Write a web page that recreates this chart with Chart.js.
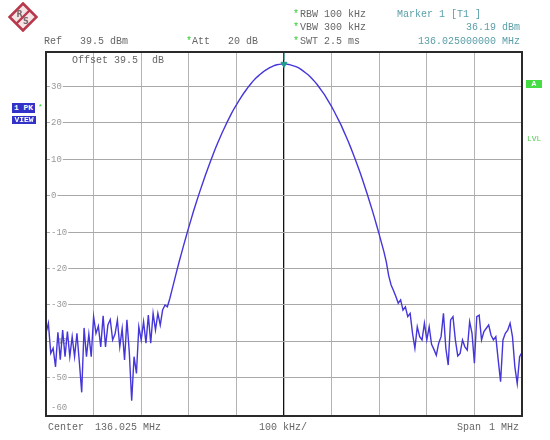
<!DOCTYPE html>
<html>
<head>
<meta charset="utf-8">
<script src="https://cdn.jsdelivr.net/npm/chart.js@4.4.1/dist/chart.umd.min.js"></script>
<style>
  html, body { margin: 0; padding: 0; background: #fff; }
  #wrap { position: relative; width: 550px; height: 440px; overflow: hidden;
          font-family: "Liberation Mono", "DejaVu Sans Mono", monospace; font-size: 10px; color: #666; }
  #wrap canvas { position: absolute; left: 0; top: 0; }
  .t { position: absolute; white-space: pre; line-height: 10px; }
  .r { text-align: right; }
  .teal { color: #5a9ea8; }
  .star { color: #3c3; }
  .tick { color: #999; font-size: 9px; }
  .box { position: absolute; background: #3232c8; color: #fff; font-size: 8px; line-height: 8px;
         text-align: center; font-weight: bold; }
</style>
</head>
<body>
<div id="wrap">
  <canvas id="spectrum" width="550" height="440"></canvas>

  <svg class="t" style="left:8px;top:2px" width="30" height="30" viewBox="0 0 30 30">
    <polygon points="15,1.5 28.5,15 15,28.5 1.5,15" fill="#f4e4e6" stroke="#b8384c" stroke-width="2.6"/>
    <line x1="8" y1="22" x2="22" y2="8" stroke="#b8384c" stroke-width="2.4"/>
    <text x="8.5" y="15" font-size="8" font-family="DejaVu Sans" font-weight="bold" fill="#7a6a6c">R</text>
    <text x="15" y="22" font-size="8" font-family="DejaVu Sans" font-weight="bold" fill="#7a6a6c">S</text>
  </svg>

  <div class="t" style="left:44px;top:37px">Ref</div>
  <div class="t" style="left:80px;top:37px">39.5 dBm</div>
  <div class="t star" style="left:186px;top:37px">*</div>
  <div class="t" style="left:192px;top:37px">Att   20 dB</div>

  <div class="t star" style="left:293px;top:10px">*</div>
  <div class="t" style="left:300px;top:10px">RBW 100 kHz</div>
  <div class="t star" style="left:293px;top:23px">*</div>
  <div class="t" style="left:300px;top:23px">VBW 300 kHz</div>
  <div class="t star" style="left:293px;top:37px">*</div>
  <div class="t" style="left:300px;top:37px">SWT 2.5 ms</div>

  <div class="t teal" style="left:397px;top:10px">Marker 1 [T1 ]</div>
  <div class="t teal r" style="right:30px;top:23px">36.19 dBm</div>
  <div class="t teal r" style="right:30px;top:37px">136.025000000 MHz</div>

  <div class="t" style="left:72px;top:56px">Offset</div>
  <div class="t" style="left:114px;top:56px">39.5</div>
  <div class="t" style="left:152px;top:56px">dB</div>

  <div class="box" style="left:12px;top:103px;width:23px;height:9px;padding-top:1px">1 PK</div>
  <div class="box" style="left:12px;top:116px;width:24px;height:8px">VIEW</div>
  <div class="t star" style="left:38px;top:102px;font-size:8px">*</div>

  <div class="box" style="left:526px;top:80px;width:16px;height:8px;background:#44dd44">A</div>
  <div class="t" style="left:527px;top:134px;font-size:8px;color:#55cc55">LVL</div>

  <div class="t tick" style="left:51px;top:403px">-60</div>

  <div class="t" style="left:48px;top:423px">Center</div>
  <div class="t" style="left:95px;top:423px">136.025 MHz</div>
  <div class="t" style="left:259px;top:423px">100 kHz/</div>
  <div class="t" style="left:457px;top:423px">Span</div>
  <div class="t" style="left:489px;top:423px">1 MHz</div>
</div>

<script>
// sweep: 201 points, 5 kHz apart, offsets from the 136.025 MHz centre
const sweepStartKHz = -500;
const sweepStepKHz = 5;

// -500 ... -240 kHz
const lowerSkirtDbm = [
    -37.8, -35.0, -43.3, -41.9, -47.0, -37.5, -45.0, -36.9, -44.2, -37.3,
    -44.2, -38.7, -44.2, -37.8, -45.6, -54.0, -36.3, -44.2, -38.0, -44.2,
    -33.2, -37.8, -35.8, -41.5, -33.0, -41.5, -35.5, -34.0, -39.6, -38.0,
    -34.1, -41.5, -36.5, -45.1, -34.1, -43.0, -56.3, -44.2, -48.8, -36.0,
    -39.6, -34.6, -40.5, -32.8, -40.5, -32.3, -36.9, -32.3, -35.5, -31.4,
    -30.0, -30.5, -28.3
];

// -235 ... +210 kHz
const mainLobeDbm = [
    -25.7, -23.1, -20.5, -18.0, -15.6, -13.2, -10.9, -8.6, -6.4, -4.2,
    -2.1, -0.1, 1.9, 3.8, 5.7, 7.5, 9.3, 11.0, 12.7, 14.3,
    15.8, 17.3, 18.7, 20.1, 21.4, 22.7, 23.9, 25.0, 26.1, 27.1,
    28.1, 29.0, 29.9, 30.7, 31.5, 32.2, 32.8, 33.4, 33.9, 34.4,
    34.8, 35.2, 35.5, 35.8, 36.0, 36.1, 36.17, 36.19,
    36.17, 36.08, 35.9, 35.7, 35.5, 35.2, 34.8, 34.3, 33.8, 33.3,
    32.7, 32.0, 31.3, 30.5, 29.6, 28.7, 27.8, 26.7, 25.6, 24.5,
    23.3, 22.0, 20.7, 19.4, 17.9, 16.4, 14.9, 13.3, 11.6, 9.9,
    8.1, 6.3, 4.4, 2.4, 0.4, -1.7, -3.8, -6.0, -8.3, -10.6,
    -13.0, -15.4
];

// +215 ... +500 kHz
const upperSkirtDbm = [
    -18.2, -22.0, -24.5, -26.0, -27.7, -29.5, -28.6, -31.4, -30.5, -33.2,
    -32.3, -37.8, -41.9, -36.0, -38.7, -39.6, -35.0, -39.6, -36.0, -40.8,
    -42.2, -43.8, -40.5, -38.7, -32.3, -41.9, -46.5, -34.1, -33.2, -39.6,
    -44.0, -43.3, -39.6, -41.5, -42.4, -34.6, -37.8, -46.0, -33.2, -32.8,
    -39.6, -37.3, -36.4, -35.5, -38.3, -39.6, -38.7, -45.1, -51.1, -39.6,
    -37.8, -36.9, -35.0, -38.7, -47.0, -51.6, -44.2, -43.0
];

const freqGridKHz = [-500, -400, -300, -200, -100, 0, 100, 200, 300, 400, 500];
const levelGridDb = [-50, -40, -30, -20, -10, 0, 10, 20, 30];
const refLevelDbm = 39.5;
const bottomLevelDbm = -60.5;
const markerFreqKHz = 0;
const markerLevelDbm = 36.19;

const traceLevels = lowerSkirtDbm.concat(mainLobeDbm, upperSkirtDbm);
const tracePoints = traceLevels.map((v, i) => ({ x: sweepStartKHz + i * sweepStepKHz, y: v }));

const frameAndMarker = {
    id: 'frameAndMarker',
    afterDatasetsDraw(chart) {
        const ctx = chart.ctx;
        const pt = chart.getDatasetMeta(0).data[0];
        ctx.save();
        ctx.strokeStyle = '#1f9c8c';
        ctx.lineWidth = 1;
        ctx.beginPath();
        ctx.moveTo(pt.x, chart.chartArea.top);
        ctx.lineTo(pt.x, pt.y - 4);
        ctx.stroke();
        ctx.restore();
    },
    afterDraw(chart) {
        const a = chart.chartArea;
        const ctx = chart.ctx;
        ctx.save();
        ctx.strokeStyle = '#2a2a2a';
        ctx.lineWidth = 2;
        ctx.strokeRect(a.left, a.top, a.right - a.left, a.bottom - a.top);
        ctx.restore();
    }
};

new Chart(document.getElementById('spectrum').getContext('2d'), {
    type: 'line',
    data: {
        datasets: [
            {
                data: [{ x: markerFreqKHz, y: markerLevelDbm }],
                showLine: false,
                pointStyle: 'triangle',
                rotation: 180,
                pointRadius: 3.5,
                backgroundColor: '#1f9c8c',
                borderColor: '#1f9c8c'
            },
            {
                data: tracePoints,
                borderColor: '#4536da',
                borderWidth: 1.4,
                pointRadius: 0,
                tension: 0,
                fill: false
            }
        ]
    },
    options: {
        responsive: false,
        animation: false,
        // the mirrored y axis still reserves ~10px, so the left pad is trimmed to land the frame at x=46
        layout: { padding: { left: 36, top: 52, right: 28, bottom: 24 } },
        plugins: { legend: { display: false }, tooltip: { enabled: false } },
        scales: {
            x: {
                type: 'linear',
                min: sweepStartKHz,
                max: -sweepStartKHz,
                afterBuildTicks: s => { s.ticks = freqGridKHz.map(v => ({ value: v })); },
                ticks: { display: false },
                grid: {
                    drawTicks: false,
                    color: c => (c.tick && c.tick.value === 0) ? '#111' : '#b4b4b4',
                    lineWidth: c => (c.tick && c.tick.value === 0) ? 1.3 : 1
                },
                border: { display: false }
            },
            y: {
                min: bottomLevelDbm,
                max: refLevelDbm,
                afterBuildTicks: s => { s.ticks = levelGridDb.map(v => ({ value: v })); },
                ticks: {
                    mirror: true,
                    padding: 5,
                    color: '#999',
                    font: { family: 'Liberation Mono', size: 9 },
                    showLabelBackdrop: true,
                    backdropColor: '#fff',
                    backdropPadding: { x: 1, y: 0 }
                },
                grid: { drawTicks: false, color: '#a8a8a8' },
                border: { display: false }
            }
        }
    },
    plugins: [frameAndMarker]
});
</script>
</body>
</html>
